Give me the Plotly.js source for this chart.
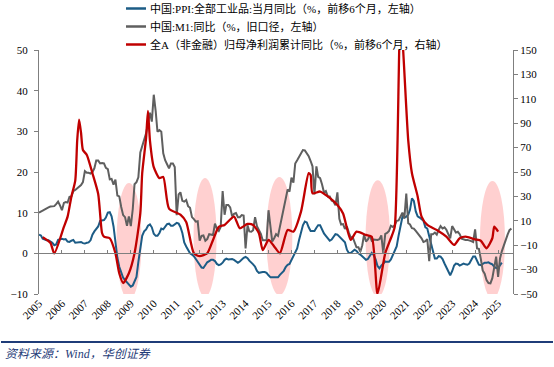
<!DOCTYPE html>
<html>
<head>
<meta charset="utf-8">
<script src="https://cdn.plot.ly/plotly-3.0.1.min.js"></script>
<style>
  html, body { margin: 0; padding: 0; background: #ffffff; }
  #chart { width: 554px; height: 367px; }
</style>
</head>
<body>
<div id="chart"></div>
<script>
// ---------------- DATA ----------------
const seriesNames = [
  '中国:PPI:全部工业品:当月同比（%，前移6个月，左轴）',
  '中国:M1:同比（%，旧口径，左轴）',
  '全A（非金融）归母净利润累计同比（%，前移6个月，右轴）'
];
const seriesColors = ['#1C5C86', '#5F5F5F', '#C00000'];

// Monthly series start month
const m1StartMonth = '2005-01';
const ppiStartMonth = '2005-01';

// China M1 YoY (old caliber), monthly from 2005-01
const m1Yoy = [
  10.0, 10.3, 10.6, 10.8, 11.0, 11.3, 11.5, 11.5, 11.6, 12.1, 12.7, 11.8,
  10.6, 12.4, 12.6, 12.5, 13.9, 14.0, 15.3, 15.6, 16.0, 16.3, 16.8, 17.5,
  20.2, 19.8, 19.8, 19.6, 20.0, 20.9, 22.8, 22.8, 22.1, 22.2, 22.1, 21.0,
  20.7, 18.2, 18.3, 16.9, 18.1, 14.2, 14.0, 11.4, 9.4, 8.9, 6.8, 9.1,
  6.7, 10.9, 17.0, 17.5, 18.7, 24.8, 26.4, 27.7, 29.5, 32.0, 34.6, 32.4,
  39.0, 34.9, 29.9, 30.3, 29.9, 24.6, 22.9, 21.9, 20.9, 22.1, 22.1, 21.2,
  9.4, 14.5, 15.0, 12.9, 12.7, 13.1, 11.6, 11.2, 8.9, 8.4, 7.8, 7.9,
  3.1, 4.3, 4.4, 3.1, 3.5, 4.7, 4.6, 4.5, 7.3, 6.1, 5.5, 6.5,
  15.3, 9.5, 11.9, 11.9, 11.3, 9.1, 9.7, 9.9, 8.9, 8.9, 9.4, 9.3,
  1.2, 6.9, 5.4, 5.3, 5.7, 8.9, 6.7, 5.7, 4.8, 3.2, 3.2, 3.2,
  10.6, 5.6, 2.9, 3.7, 4.7, 4.3, 6.6, 9.3, 11.4, 14.0, 15.7, 15.2,
  18.6, 17.4, 22.1, 22.9, 23.7, 24.6, 25.4, 25.3, 24.7, 23.9, 22.7, 21.4,
  14.5, 21.4, 18.8, 18.5, 17.0, 15.0, 15.3, 14.0, 14.0, 13.0, 12.7, 11.8,
  15.0, 8.5, 7.1, 7.2, 6.0, 6.6, 5.1, 3.9, 4.0, 2.7, 1.5, 1.5,
  0.4, 2.0, 4.6, 2.9, 3.4, 4.4, 3.1, 3.4, 3.4, 3.3, 3.5, 4.4,
  0.0, 4.8, 5.0, 5.5, 6.8, 6.5, 6.9, 8.0, 8.1, 9.1, 10.0, 8.6,
  14.7, 7.4, 7.1, 6.2, 6.1, 5.5, 4.9, 4.2, 3.7, 2.8, 3.0, 3.5,
  -1.9, 4.7, 4.7, 5.1, 4.6, 5.8, 6.7, 6.1, 6.4, 5.8, 4.6, 3.7,
  6.7, 5.8, 5.1, 5.3, 4.7, 3.6, 3.4, 3.3, 3.3, 3.2, 3.0, 2.8,
  5.9, 1.2, 1.1, -1.4, -4.2, -5.0, -6.6, -7.3, -7.4, -6.1, -3.7, -0.8,
  -5.8, -1.2, 0.5, 2.0, 3.3, 4.6, 5.7, 6.1
];

// China PPI YoY, shifted 6 months earlier, monthly from 2005-01 (plotted date)
const ppiYoyShifted = [
  4.6, 4.4, 3.6, 3.4, 3.2, 3.2, 3.0, 2.6, 2.0, 2.2, 3.3, 3.5,
  3.6, 3.4, 3.5, 2.9, 2.8, 3.1, 3.3, 2.6, 2.7, 2.8, 2.8, 2.5,
  2.4, 2.6, 2.7, 3.2, 4.6, 5.4, 6.1, 6.6, 8.0, 8.1, 8.2, 8.8,
  10.0, 10.1, 9.1, 6.6, 2.0, -1.1, -3.3, -4.5, -6.0, -6.6, -7.2, -7.8,
  -8.2, -7.9, -7.0, -5.8, -2.1, 1.7, 4.3, 5.4, 5.9, 6.8, 7.1, 6.4,
  4.8, 4.3, 4.3, 5.0, 6.1, 5.9, 6.6, 7.2, 7.3, 6.8, 6.8, 7.1,
  7.5, 7.3, 6.5, 5.0, 2.7, 1.7, 0.7, 0.0, -0.3, -0.7, -1.4, -2.1,
  -2.9, -3.5, -3.6, -2.8, -2.2, -1.9, -1.6, -1.6, -1.9, -2.6, -2.9, -2.7,
  -2.3, -1.6, -1.3, -1.5, -1.4, -1.4, -1.6, -2.0, -2.3, -2.0, -1.4, -1.1,
  -0.9, -1.2, -1.8, -2.2, -2.7, -3.3, -4.3, -4.8, -4.6, -4.6, -4.6, -4.8,
  -5.4, -5.9, -5.9, -5.9, -5.9, -5.9, -5.3, -4.9, -4.3, -3.4, -2.8, -2.6,
  -1.7, -0.8, 0.1, 1.2, 3.3, 5.5, 6.9, 7.8, 7.6, 6.4, 5.5, 5.5,
  5.5, 6.3, 6.9, 6.9, 5.8, 4.9, 4.3, 3.7, 3.1, 3.4, 4.1, 4.7,
  4.6, 4.1, 3.6, 3.3, 2.7, 0.9, 0.1, 0.1, 0.4, 0.9, 0.6, 0.0,
  -0.3, -0.8, -1.2, -1.6, -1.4, -0.5, 0.1, -0.4, -1.5, -3.1, -3.7, -3.0,
  -2.4, -2.0, -2.1, -2.1, -1.5, -0.4, 0.3, 1.7, 4.4, 6.8, 9.0, 8.8,
  9.0, 9.5, 10.7, 13.5, 12.9, 10.3, 9.1, 8.8, 8.3, 8.0, 6.4, 6.1,
  4.2, 2.3, 0.9, -1.3, -1.3, -0.7, -0.8, -1.4, -2.5, -3.6, -4.6, -5.4,
  -4.4, -3.0, -2.5, -2.6, -3.0, -2.7, -2.5, -2.7, -2.8, -2.5, -1.4, -0.8,
  -0.8, -1.8, -2.8, -2.9, -2.5, -2.3, -2.3, -2.2, -2.5, -2.7, -3.3, -3.6,
  -3.6, -2.9, -2.3
];

// All-A (non-financial) net profit attributable, cumulative YoY, shifted 6 months (right axis)
const profitDates = [
  '2005-03','2005-07','2005-09','2006-02','2006-04','2006-06','2006-08','2006-09','2006-10','2006-11','2006-12',
  '2007-02','2007-05','2007-08','2007-10','2007-11','2008-02','2008-05','2008-07','2008-09','2008-12',
  '2009-03','2009-06','2009-07','2009-09','2009-10','2009-11','2010-01','2010-04','2010-06','2010-09',
  '2011-03','2011-06','2011-10','2012-01','2012-05','2012-08','2012-11','2013-02','2013-07','2013-10',
  '2014-02','2014-05','2014-08','2014-10','2015-01','2015-04','2015-07','2015-11','2016-02','2016-06',
  '2016-10','2016-11','2016-12','2017-04','2017-08','2018-01','2018-04','2018-08','2018-11','2019-04',
  '2019-07','2019-10','2020-02','2020-05','2020-07','2020-10','2021-02','2021-04','2021-07','2021-09',
  '2021-12','2022-05','2022-10','2023-02','2023-05','2023-08','2024-01','2024-04','2024-07','2024-10',
  '2024-11','2025-01'
];
const profitYoy = [
  -3.5, -8, -16.7, 5, 13.4, 30, 43, 76, 93, 82, 68,
  64, 49, 32, 0, -3, -4.3, -16.6, -33, -41, -33,
  -16.6, 16, 49, 78, 100, 76, 54, 45, 46, 20,
  15, 9, -16.6, -19, -16.6, -5.7, 5, 6.6, 13.4, 3.9,
  7.4, 6.6, -0.2, -14, -5.7, -11, -16.6, 2.5, 1.1, 17.5,
  49, 47.5, 32.5, 34, 30, 23, 16, -5.7, 1.1, -1.6,
  -3, -50, -16.6, -4.3, 5, 180, 76, 49, 30, 13.4,
  6.6, 2.5, -3, -9.8, -4.3, -3, -5.2, -6.3, -12.5, -4.3,
  5.2, 1.1
];

const yearTicks = ['2005','2006','2007','2008','2009','2010','2011','2012','2013','2014','2015',
                   '2016','2017','2018','2019','2020','2021','2022','2023','2024','2025'];

// ---------------- HELPERS ----------------
function monthSeq(start, n) {
  const [y0, m0] = start.split('-').map(Number);
  const out = [];
  for (let i = 0; i < n; i++) {
    const t = (m0 - 1) + i;
    const y = y0 + Math.floor(t / 12);
    const m = (t % 12) + 1;
    out.push(y + '-' + String(m).padStart(2, '0') + '-01');
  }
  return out;
}

const FONT = 'Liberation Serif, "Times New Roman", "Noto Sans CJK SC", serif';
const xRange = ['2005-01-01', '2025-08-26'];

// plot area geometry (px) used for paper-coordinate placement of legend/footer
const PL = 39, PR = 513, PT = 50, PB = 294;
const px2x = px => (px - PL) / (PR - PL);
const px2y = py => (PB - py) / (PB - PT);

const traces = [
  {
    name: seriesNames[0], type: 'scatter', mode: 'lines',
    x: monthSeq(ppiStartMonth, ppiYoyShifted.length), y: ppiYoyShifted,
    line: { color: seriesColors[0], width: 2 }, xaxis: 'x', yaxis: 'y', hoverinfo: 'skip'
  },
  {
    name: seriesNames[1], type: 'scatter', mode: 'lines',
    x: monthSeq(m1StartMonth, m1Yoy.length), y: m1Yoy,
    line: { color: seriesColors[1], width: 2 }, xaxis: 'x', yaxis: 'y', hoverinfo: 'skip'
  },
  {
    name: seriesNames[2], type: 'scatter', mode: 'lines',
    x: profitDates.map(d => d + '-01'), y: profitYoy,
    line: { color: seriesColors[2], width: 2.3, shape: 'spline', smoothing: 0.6 },
    xaxis: 'x', yaxis: 'y2', hoverinfo: 'skip'
  },
  {
    // helper trace for the zero-line axis
    x: ['2010-01-01'], y: [null], xaxis: 'x2', yaxis: 'y', type: 'scatter', mode: 'lines',
    showlegend: false, hoverinfo: 'skip'
  }
];

// highlight ellipses (annotation shapes)
const ellipses = [
  ['2008-05-18', '2009-06-20', -11.5, 17.3],
  ['2011-09-26', '2012-09-26', -10.7, 18.5],
  ['2014-11-27', '2016-01-15', -10.3, 18.8],
  ['2019-03-25', '2020-04-16', -10.7, 18.0],
  ['2024-03-18', '2025-04-20', -11.2, 17.8]
];
const shapes = ellipses.map(e => ({
  type: 'circle', xref: 'x', yref: 'y', x0: e[0], x1: e[1], y0: e[2], y1: e[3],
  fillcolor: 'rgba(255,150,150,0.45)', line: { width: 0 }, layer: 'below'
}));
// footer rule
shapes.push({
  type: 'line', xref: 'paper', yref: 'paper',
  x0: px2x(1), x1: px2x(553), y0: px2y(342), y1: px2y(342),
  line: { color: '#1F3C78', width: 2 }
});

// manual legend (rows at fixed pixel positions)
const legendRowsY = [8.5, 26.5, 44.5];
const annotations = [];
seriesNames.forEach((nm, i) => {
  shapes.push({
    type: 'line', xref: 'paper', yref: 'paper',
    x0: px2x(126), x1: px2x(146), y0: px2y(legendRowsY[i]), y1: px2y(legendRowsY[i]),
    line: { color: seriesColors[i], width: 2.5 }
  });
  annotations.push({
    xref: 'paper', yref: 'paper', x: px2x(148), y: px2y(legendRowsY[i]),
    xanchor: 'left', yanchor: 'middle', showarrow: false, text: nm,
    font: { family: FONT, size: 11, color: '#000' }
  });
});
annotations.push({
  xref: 'paper', yref: 'paper', x: px2x(3), y: px2y(354), xanchor: 'left', yanchor: 'middle',
  text: '<i>资料来源：Wind，华创证券</i>', showarrow: false,
  font: { family: FONT, size: 12, color: '#1F3C78' }
});

const layout = {
  width: 554, height: 367,
  margin: { l: PL, r: 554 - PR, t: PT, b: 367 - PB, pad: 0 },
  paper_bgcolor: '#ffffff', plot_bgcolor: '#ffffff',
  font: { family: FONT, size: 11, color: '#000000' },
  showlegend: false,
  xaxis: {
    type: 'date', range: xRange,
    tickvals: yearTicks.map(y => y + '-01-01'), ticktext: yearTicks,
    tickangle: -45, ticks: '', showline: false, showgrid: false, zeroline: false,
    tickfont: { family: FONT, size: 11, color: '#000' }
  },
  xaxis2: {
    type: 'date', range: xRange, overlaying: 'x', anchor: 'free', position: 1 / 6,
    tickvals: yearTicks.map(y => y + '-01-01'), showticklabels: false,
    ticks: 'inside', ticklen: 3, tickcolor: '#7F7F7F', tickwidth: 1,
    showline: true, linecolor: '#7F7F7F', linewidth: 1, showgrid: false, zeroline: false
  },
  yaxis: {
    range: [-10, 50], tick0: -10, dtick: 10,
    ticks: 'outside', ticklen: 4, tickcolor: '#7F7F7F', ticklabelstandoff: 4,
    showline: true, linecolor: '#7F7F7F', linewidth: 1,
    showgrid: false, zeroline: false,
    tickfont: { family: FONT, size: 11, color: '#000' }
  },
  yaxis2: {
    range: [-50, 150], tick0: -50, dtick: 20, overlaying: 'y', side: 'right',
    ticks: 'outside', ticklen: 4, tickcolor: '#7F7F7F',
    showline: true, linecolor: '#7F7F7F', linewidth: 1,
    showgrid: false, zeroline: false,
    tickfont: { family: FONT, size: 11, color: '#000' }
  },
  shapes: shapes,
  annotations: annotations
};

Plotly.newPlot('chart', traces, layout, { staticPlot: true, displayModeBar: false });
</script>
</body>
</html>
